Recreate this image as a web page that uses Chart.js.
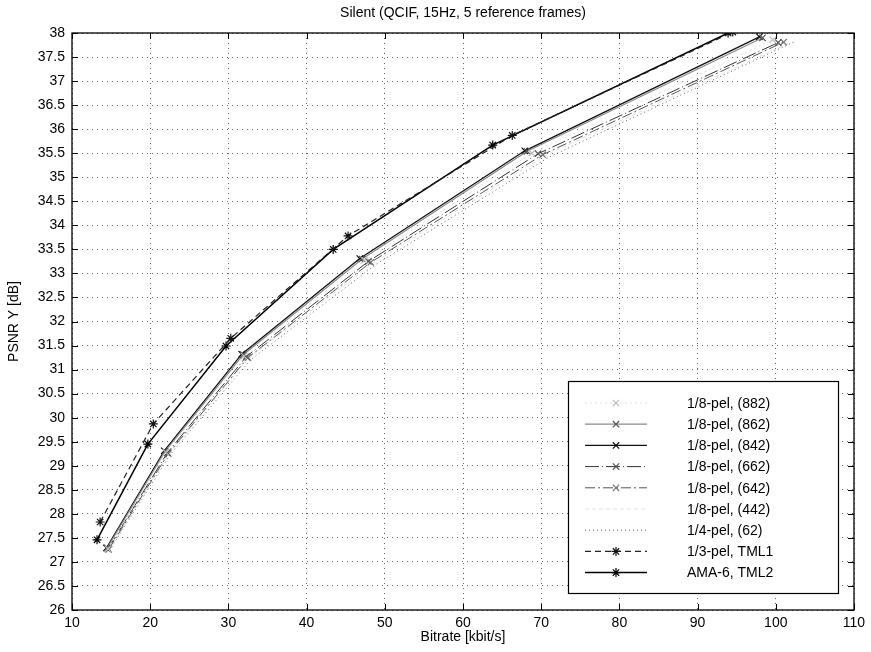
<!DOCTYPE html>
<html>
<head>
<meta charset="utf-8">
<script src="https://cdn.jsdelivr.net/npm/chart.js@4.4.1/dist/chart.umd.min.js"></script>
<style>
  html, body { margin: 0; padding: 0; background: #fff; }
  #wrap { width: 871px; height: 652px; }
</style>
</head>
<body>
<div id="wrap"><canvas id="c" width="871" height="652"></canvas></div>
<script>
// ---- data ----
const seriesNames = [
  '1/8-pel, (882)', '1/8-pel, (862)', '1/8-pel, (842)', '1/8-pel, (662)',
  '1/8-pel, (642)', '1/8-pel, (442)', '1/4-pel, (62)', '1/3-pel, TML1', 'AMA-6, TML2'
];
const rate882 = [14.6, 22.0, 32.0, 47.4, 68.8, 99.6];
const psnr882 = [27.27, 29.28, 31.28, 33.27, 35.50, 37.86];
const rate862 = [14.5, 21.9, 31.9, 47.1, 68.2, 98.3];
const psnr862 = [27.29, 29.30, 31.31, 33.30, 35.54, 37.90];
const rate842 = [14.4, 21.8, 31.7, 46.8, 67.9, 97.9];
const psnr842 = [27.29, 29.31, 31.32, 33.31, 35.55, 37.92];
const rate662 = [14.6, 22.2, 32.3, 47.9, 69.6, 100.3];
const psnr662 = [27.27, 29.27, 31.27, 33.25, 35.49, 37.80];
const rate642 = [14.7, 22.3, 32.5, 48.2, 70.2, 101.0];
const psnr642 = [27.26, 29.25, 31.25, 33.23, 35.47, 37.81];
const rate442 = [14.8, 22.4, 32.6, 48.5, 70.6, 101.8];
const psnr442 = [27.25, 29.24, 31.24, 33.21, 35.46, 37.80];
const rate62 = [14.8, 22.5, 32.8, 48.8, 71.0, 102.4];
const psnr62 = [27.24, 29.22, 31.20, 33.18, 35.42, 37.82];
const rateTml1 = [13.6, 20.4, 30.3, 45.3, 66.3, 94.5];
const psnrTml1 = [27.83, 29.87, 31.65, 33.78, 35.87, 38.02];
const rateTml2 = [13.2, 19.7, 29.7, 43.4, 63.8, 93.9];
const psnrTml2 = [27.46, 29.45, 31.49, 33.50, 35.67, 38.00];

const xTicks = [10, 20, 30, 40, 50, 60, 70, 80, 90, 100, 110];
const yMin = 26, yMax = 38, yStep = 0.5;

const titleText = 'Silent (QCIF, 15Hz, 5 reference frames)';
const xTitle = 'Bitrate [kbit/s]';
const yTitle = 'PSNR Y [dB]';

// ---- build datasets ----
function pts(r, p) { return r.map((v, i) => ({ x: v, y: p[i] })); }
const styles = [
  { c: '#e2e2e2', w: 1, dash: [2, 3], ps: 'crossRot', pc: '#bbb' },
  { c: '#8a8a8a', w: 1.2, dash: [], ps: 'crossRot', pc: '#555' },
  { c: '#111', w: 1.3, dash: [], ps: 'crossRot', pc: '#111' },
  { c: '#333', w: 1, dash: [14, 3, 1, 3], ps: 'crossRot', pc: '#555' },
  { c: '#555', w: 1, dash: [10, 3, 2, 3], ps: 'crossRot', pc: '#777' },
  { c: '#e0e0e0', w: 1, dash: [4, 3], ps: false, pc: '#e0e0e0' },
  { c: '#666', w: 1, dash: [1, 3], ps: false, pc: '#666' },
  { c: '#222', w: 1.2, dash: [6, 4], ps: 'star', pc: '#111' },
  { c: '#000', w: 1.5, dash: [], ps: 'star', pc: '#000' }
];
const allData = [
  pts(rate882, psnr882), pts(rate862, psnr862), pts(rate842, psnr842),
  pts(rate662, psnr662), pts(rate642, psnr642), pts(rate442, psnr442),
  pts(rate62, psnr62), pts(rateTml1, psnrTml1), pts(rateTml2, psnrTml2)
];
const datasets = allData.map((d, i) => ({
  label: seriesNames[i],
  data: d,
  borderColor: styles[i].c,
  borderWidth: styles[i].w,
  borderDash: styles[i].dash,
  pointStyle: styles[i].ps,
  pointRadius: styles[i].ps ? 4.5 : 0,
  pointBorderColor: styles[i].pc,
  pointBackgroundColor: styles[i].pc,
  pointBorderWidth: 1.2,
  fill: false,
  tension: 0
}));

// ---- plugins: frame, inside ticks, legend ----
const framePlugin = {
  id: 'frame',
  afterDatasetsDraw(chart) {
    const { ctx, chartArea: a, scales } = chart;
    ctx.save();
    ctx.strokeStyle = '#000';
    ctx.lineWidth = 1.3;
    ctx.setLineDash([]);
    ctx.strokeRect(a.left, a.top, a.right - a.left, a.bottom - a.top);
    const L = 6;
    ctx.lineWidth = 1;
    ctx.beginPath();
    scales.x.ticks.forEach(t => {
      const px = Math.round(scales.x.getPixelForValue(t.value)) + 0.5;
      ctx.moveTo(px, a.bottom); ctx.lineTo(px, a.bottom - L);
      ctx.moveTo(px, a.top); ctx.lineTo(px, a.top + L);
    });
    scales.y.ticks.forEach(t => {
      const py = Math.round(scales.y.getPixelForValue(t.value)) + 0.5;
      ctx.moveTo(a.left, py); ctx.lineTo(a.left + L, py);
      ctx.moveTo(a.right, py); ctx.lineTo(a.right - L, py);
    });
    ctx.stroke();
    ctx.restore();
  }
};

const legendPlugin = {
  id: 'insideLegend',
  afterDraw(chart) {
    const { ctx, chartArea: a } = chart;
    const bx = a.right - 286, by = a.bottom - 229, bw = 270, bh = 212;
    ctx.save();
    ctx.fillStyle = '#fff';
    ctx.fillRect(bx, by, bw, bh);
    ctx.strokeStyle = '#000';
    ctx.lineWidth = 1.2;
    ctx.setLineDash([]);
    ctx.strokeRect(bx + 0.5, by + 0.5, bw, bh);
    chart.data.datasets.forEach((ds, i) => {
      const y = by + 22 + i * 21.2;
      ctx.save();
      ctx.strokeStyle = ds.borderColor;
      ctx.lineWidth = ds.borderWidth;
      ctx.setLineDash(ds.borderDash || []);
      ctx.beginPath();
      ctx.moveTo(bx + 17, y);
      ctx.lineTo(bx + 79, y);
      ctx.stroke();
      ctx.restore();
      if (ds.pointStyle) {
        ctx.save();
        ctx.strokeStyle = ds.pointBorderColor;
        ctx.fillStyle = ds.pointBackgroundColor;
        ctx.lineWidth = ds.pointBorderWidth;
        Chart.helpers.drawPoint(ctx, { pointStyle: ds.pointStyle, radius: 4.5, borderWidth: 1.2, rotation: 0 }, bx + 48, y);
        ctx.restore();
      }
      ctx.fillStyle = '#000';
      ctx.font = '14px "Liberation Sans", Arial, sans-serif';
      ctx.textBaseline = 'middle';
      ctx.textAlign = 'left';
      ctx.fillText(ds.label, bx + 119, y + 1);
    });
    ctx.restore();
  }
};

Chart.defaults.font.family = '"Liberation Sans", Arial, sans-serif';
Chart.defaults.color = '#000';

new Chart(document.getElementById('c'), {
  type: 'line',
  data: { datasets },
  plugins: [framePlugin, legendPlugin],
  options: {
    responsive: false,
    animation: false,
    layout: { padding: { left: 0, right: 17, top: 0, bottom: 0 } },
    plugins: {
      legend: { display: false },
      tooltip: { enabled: false },
      title: {
        display: true,
        text: titleText,
        fullSize: false,
        color: '#000',
        font: { size: 14, weight: 'normal' },
        padding: { top: 5, bottom: 11.2 }
      }
    },
    scales: {
      x: {
        type: 'linear',
        min: 10, max: 110,
        afterBuildTicks: s => { s.ticks = xTicks.map(v => ({ value: v })); },
        afterFit: s => { s.height = 42; },
        ticks: { font: { size: 14 }, padding: 5, color: '#000', maxRotation: 0, callback: v => String(v) },
        grid: { color: 'rgba(0,0,0,0.6)', lineWidth: 1, drawTicks: false },
        border: { display: false, dash: [1, 4] },
        title: { display: true, text: xTitle, font: { size: 14 }, padding: { top: 0, bottom: 6 }, color: '#000' }
      },
      y: {
        type: 'linear',
        min: yMin, max: yMax,
        ticks: { stepSize: yStep, font: { size: 14 }, padding: 7, color: '#000', callback: v => String(Math.round(v * 10) / 10) },
        afterFit: s => { s.width = 72; },
        grid: { color: 'rgba(0,0,0,0.6)', lineWidth: 1, drawTicks: false },
        border: { display: false, dash: [1, 4] },
        title: { display: true, text: yTitle, font: { size: 14 }, padding: { top: 5.6, bottom: 0 }, color: '#000' }
      }
    }
  }
});
</script>
</body>
</html>
